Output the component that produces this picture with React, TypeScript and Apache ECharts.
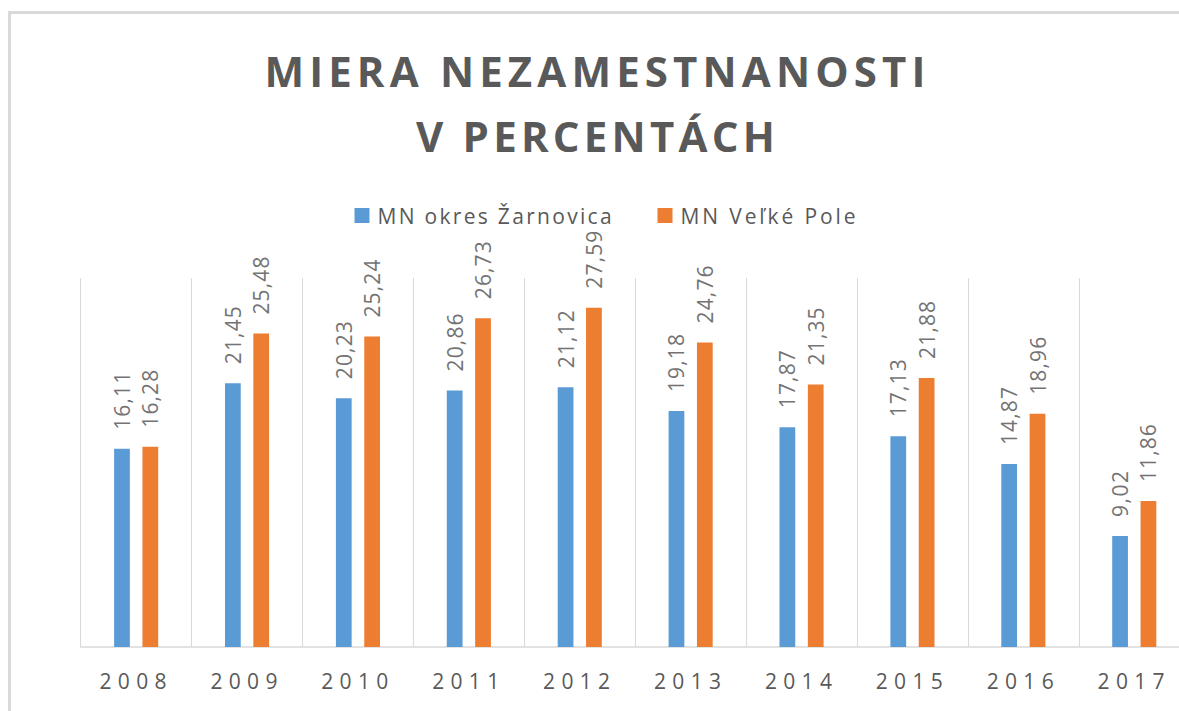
import React, { useEffect, useRef } from 'react';
import * as echarts from 'echarts';

const years = ['2008', '2009', '2010', '2011', '2012', '2013', '2014', '2015', '2016', '2017'];
const zarnovica = [16.11, 21.45, 20.23, 20.86, 21.12, 19.18, 17.87, 17.13, 14.87, 9.02];
const velkePole = [16.28, 25.48, 25.24, 26.73, 27.59, 24.76, 21.35, 21.88, 18.96, 11.86];
const seriesNames = ['MN okres Žarnovica', 'MN Veľké Pole'];
const titleLines = ['MIERA NEZAMESTNANOSTI', 'V PERCENTÁCH'];

const FONT = "'Open Sans', 'DejaVu Sans', sans-serif";
const BLUE = '#5B9BD5';
const ORANGE = '#ED7D31';
const TEXT = '#595959';
const GRID = '#D9D9D9';

const targetWidths: Record<string, number> = {
  'MIERA NEZAMESTNANOSTI': 661,
  'V PERCENTÁCH': 359,
  'MN okres Žarnovica': 234,
  'MN Veľké Pole': 175,
};

function applySpacing(root: HTMLElement) {
  root.querySelectorAll('text').forEach((node) => {
    const t = node as SVGTextElement;
    const s = t.textContent || '';
    if (!s) return;
    let target = targetWidths[s];
    if (target === undefined) {
      if (/^\d{4}$/.test(s)) target = 67;
      else if (/^\d+,\d\d$/.test(s)) target = s.length === 5 ? 58 : 46;
      else return;
    }
    t.removeAttribute('letter-spacing');
    const len = t.getComputedTextLength();
    const sp = Math.max(0, (target - len) / Math.max(1, s.length - 1));
    t.setAttribute('letter-spacing', sp.toFixed(2));
  });
}

const fmt = (p: any) => Number(p.value).toFixed(2).replace('.', ',');

export default function App() {
  const ref = useRef<HTMLDivElement>(null);
  useEffect(() => {
    if (!ref.current) return;
    const el = ref.current;
    const chart = echarts.init(el, undefined, { renderer: 'svg' });
    const labelCfg = {
      show: true,
      position: 'top',
      rotate: 90,
      align: 'left',
      verticalAlign: 'middle',
      distance: 19,
      color: '#737373',
      fontSize: 21,
      fontFamily: FONT,
      formatter: fmt,
    };
    const legendText = { fontSize: 21, color: TEXT, fontFamily: FONT, padding: [0, 0, 0, 3] };
    chart.setOption({
      animation: false,
      backgroundColor: '#ffffff',
      title: {
        text: titleLines.join('\n'),
        left: 597.5,
        top: 38,
        padding: 0,
        textAlign: 'center',
        textStyle: {
          fontFamily: FONT,
          fontWeight: 'bold',
          fontSize: 42,
          lineHeight: 65,
          color: TEXT,
        },
      },
      graphic: [
        {
          type: 'rect',
          shape: { x: 9.5, y: 12.5, width: 1400, height: 900 },
          style: { fill: 'none', stroke: GRID, lineWidth: 3 },
          silent: true,
        },
      ],
      legend: [
        {
          data: [seriesNames[0]],
          left: 354.5,
          top: 205,
          padding: 0,
          itemWidth: 15,
          itemHeight: 15,
          icon: 'rect',
          textStyle: legendText,
        },
        {
          data: [seriesNames[1]],
          left: 657.5,
          top: 205,
          padding: 0,
          itemWidth: 15,
          itemHeight: 15,
          icon: 'rect',
          textStyle: legendText,
        },
      ],
      grid: { left: 80.7, right: 0.3, top: 278, bottom: 64, containLabel: false },
      xAxis: {
        type: 'category',
        data: years,
        axisTick: { show: false },
        axisLine: { show: true, lineStyle: { color: GRID, width: 1.5 } },
        splitLine: { show: true, lineStyle: { color: GRID, width: 1 } },
        axisLabel: { fontSize: 21, color: TEXT, fontFamily: FONT, margin: 23 },
      },
      yAxis: { type: 'value', min: 0, max: 30, show: false, splitLine: { show: false } },
      series: [
        {
          name: seriesNames[0],
          type: 'bar',
          data: zarnovica,
          barWidth: '14.2%',
          barGap: '80%',
          itemStyle: { color: BLUE },
          label: labelCfg,
        },
        {
          name: seriesNames[1],
          type: 'bar',
          data: velkePole,
          barWidth: '14.2%',
          barGap: '80%',
          itemStyle: { color: ORANGE },
          label: labelCfg,
        },
      ],
    });
    applySpacing(el);
    const onFinished = () => applySpacing(el);
    chart.on('finished', onFinished);
    const timer = setTimeout(() => applySpacing(el), 50);
    return () => {
      clearTimeout(timer);
      chart.off('finished', onFinished);
      chart.dispose();
    };
  }, []);
  return (
    <div
      ref={ref}
      style={{ position: 'fixed', left: 0, top: 0, width: 1190, height: 711, background: '#fff' }}
    />
  );
}
